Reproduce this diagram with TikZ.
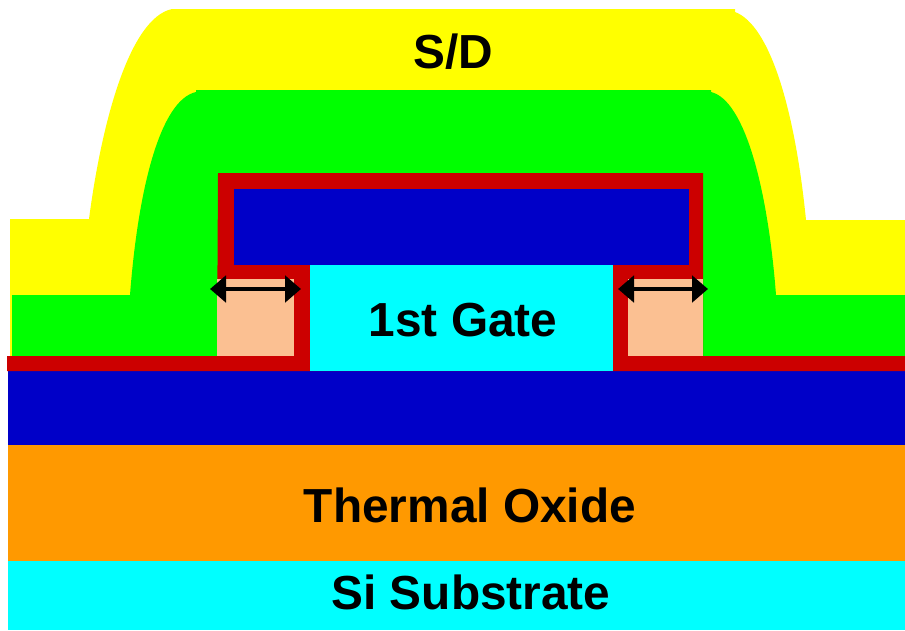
\documentclass[tikz,border=0pt]{standalone}
\usepackage{fontspec}
\setmainfont{Liberation Sans}
\usepackage{tikz}
\usetikzlibrary{arrows.meta}
\definecolor{sdyellow}{HTML}{FFFF00}
\definecolor{semigreen}{HTML}{00FF00}
\definecolor{oxred}{HTML}{CC0000}
\definecolor{gateblue}{HTML}{0000C8}
\definecolor{spacer}{HTML}{FBC092}
\definecolor{thermal}{HTML}{FF9900}
\definecolor{substrate}{HTML}{00FFFF}

\begin{document}
\begin{tikzpicture}[
    x=0.25mm, y=-0.25mm,
    label/.style={font=\fontsize{34}{40}\selectfont\bfseries, inner sep=0pt, text=black},
    overlap/.style={{Triangle[length=4mm, width=6.6mm]}-{Triangle[length=4mm, width=6.6mm]}, line width=1.1mm, draw=black}
]

\useasboundingbox (0,0) rectangle (905,630);

% --------------------------------------------------------------------------
% Substrate stack
% --------------------------------------------------------------------------
\fill[substrate] (8,561) rectangle (905,630);
\fill[thermal] (8,445) rectangle (905,561);
\fill[gateblue] (8,371) rectangle (905,445);

% --------------------------------------------------------------------------
% Source/drain and semiconductor
% --------------------------------------------------------------------------
\fill[sdyellow] (10,356) -- (10,219) -- (89,219)
    .. controls (102,120) and (130,18) .. (172,9) -- (735,9) -- (735,12)
    .. controls (770,25) and (795,110) .. (806,220) -- (905,220) -- (905,300) -- (12,300) -- (12,356) -- cycle;
\fill[semigreen] (12,356) -- (12,295) -- (130,295)
    .. controls (138,190) and (160,100) .. (196,92) -- (196,90) -- (711,90) -- (711,92)
    .. controls (745,100) and (768,190) .. (776,295) -- (905,295) -- (905,356) -- cycle;

% --------------------------------------------------------------------------
% Gate insulator, gates and spacers
% --------------------------------------------------------------------------
\fill[oxred] (7,371) -- (7,356) -- (217,356) -- (218,173) -- (703,173) -- (703,356) -- (905,356) -- (905,371) -- cycle;
\fill[gateblue] (234,189) rectangle (689,265);
\fill[substrate] (310,265) rectangle (613,371);
\fill[spacer] (217,279) rectangle (294,356);
\fill[spacer] (628,279) rectangle (703,356);

% Overlap arrows
\coordinate (leftA) at (210,289);
\coordinate (leftB) at (301,289);
\coordinate (rightA) at (618,289);
\coordinate (rightB) at (708,289);
\draw[overlap] (leftA) -- (leftB);
\draw[overlap] (rightA) -- (rightB);

% Labels
\node[label] (sd) at (453.5,52) {S/D};
\node[label] (gate) at (463,320) {1st Gate};
\node[label] (oxide) at (470,505) {Thermal Oxide};
\node[label] (si) at (471,592) {Si Substrate};

\end{tikzpicture}
\end{document}
